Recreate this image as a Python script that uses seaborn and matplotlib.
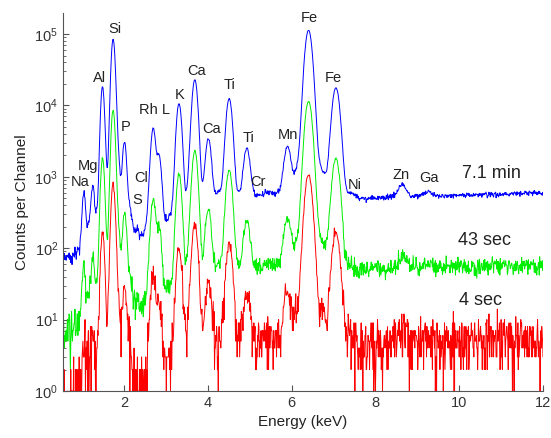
import numpy as np
import pandas as pd
import matplotlib
matplotlib.use("Agg")
import matplotlib.pyplot as plt
import seaborn as sns

# ---- data (7.1 min spectrum, counts per channel) ----
peak_energy = [1.041, 1.254, 1.487, 1.557, 1.740, 1.836, 2.013, 2.139, 2.307,
               2.622, 2.697, 2.834, 3.313, 3.590, 3.691, 4.013, 4.250, 4.510,
               4.932, 5.414, 5.899, 6.404, 6.490, 7.058, 7.478, 8.638, 9.251]
peak_height = [450, 520, 18000, 300, 84000, 1800, 2800, 200, 60,
               200, 4500, 1800, 10300, 500, 22500, 3000, 120, 12000,
               2000, 60, 2000, 112000, 500, 17000, 60, 250, 80]
bg_energy = [0.55, 0.85, 1.15, 1.40, 1.90, 2.30, 2.50, 3.00, 3.50, 4.20,
             5.20, 5.70, 6.20, 6.75, 7.10, 7.22, 8.00, 10.0, 12.0]
bg_counts = [75, 78, 220, 200, 250, 120, 150, 220, 260, 430,
             540, 580, 640, 700, 680, 470, 510, 550, 590]
live_time_s = [426, 43, 4]
series_names = ["7.1 min", "43 sec", "4 sec"]
series_colors = ["#0000ff", "#00ee00", "#ff0000"]

labels = ["Na", "Mg", "Al", "Si", "P", "S", "Cl", "Rh L", "K", "Ca", "Ca",
          "Ti", "Ti", "Cr", "Mn", "Fe", "Fe", "Ni", "Zn", "Ga"]
label_x = [0.95, 1.13, 1.415, 1.78, 2.05, 2.32, 2.42, 2.72, 3.32, 3.735, 4.08,
           4.53, 4.98, 5.20, 5.91, 6.42, 7.00, 7.51, 8.61, 9.28]
label_logy = [2.93, 3.15, 4.38, 5.07, 3.70, 2.67, 2.98, 3.94, 4.15, 4.48, 3.67,
              4.29, 3.54, 2.93, 3.59, 5.22, 4.38, 2.88, 3.03, 2.98]
series_label_x = [10.78, 10.6, 10.5]
series_label_logy = [3.05, 2.11, 1.27]

# ---- build spectra (detector response: Gaussian core plus a weak broad wing) ----
energy = np.arange(0.55, 12.0001, 0.01)
base = 10 ** np.interp(energy, bg_energy, np.log10(bg_counts))
for e0, h in zip(peak_energy, peak_height):
    sig = np.sqrt(0.0005 + 0.0045 * e0) / 2.355
    sig2 = 2.5 * sig
    base = base + h * (0.98 * np.exp(-(energy - e0) ** 2 / (2 * sig ** 2))
                       + 0.02 * np.exp(-(energy - e0) ** 2 / (2 * sig2 ** 2)))

rng = np.random.default_rng(7)
frames = []
for name, t in zip(series_names, live_time_s):
    counts = rng.poisson(base * t / live_time_s[0]).astype(float)
    frames.append(pd.DataFrame({"Energy": energy, "Counts": counts, "series": name}))
df = pd.concat(frames, ignore_index=True)

# ---- plot ----
sns.set_style("ticks")
plt.rcParams["font.family"] = ["Liberation Sans", "DejaVu Sans"]
fig = plt.figure(figsize=(5.51, 4.38), dpi=100)
ax = fig.add_axes([0.1143, 0.1073, 0.8712, 0.8630])
ax.set_yscale("log", nonpositive="clip")
sns.lineplot(data=df, x="Energy", y="Counts", hue="series",
             hue_order=series_names, palette=series_colors,
             estimator=None, linewidth=0.7, legend=False, ax=ax)

ax.set_xlim(0.544, 12)
ax.set_ylim(1, 1.97e5)
ax.set_xticks([2, 4, 6, 8, 10, 12])
ax.set_xlabel("Energy (keV)", fontsize=11, color="#222222")
ax.set_ylabel("Counts per Channel", fontsize=11, color="#222222")
for s in ["top", "right"]:
    ax.spines[s].set_visible(False)
for s in ["left", "bottom"]:
    ax.spines[s].set_color("#555555")
    ax.spines[s].set_linewidth(0.8)
ax.tick_params(which="both", direction="in", color="#555555", labelcolor="#333333",
               labelsize=10.5)
ax.tick_params(which="major", length=4)
ax.tick_params(which="minor", length=2)
ax.minorticks_off()
ax.yaxis.set_minor_locator(matplotlib.ticker.LogLocator(base=10, subs=np.arange(2, 10)))

for t, x, ly in zip(labels, label_x, label_logy):
    ax.text(x, 10 ** ly, t, ha="center", va="center", fontsize=10.5, color="#222222")
for t, x, ly in zip(series_names, series_label_x, series_label_logy):
    ax.text(x, 10 ** ly, t, ha="center", va="center", fontsize=13, color="#222222")

fig.savefig("out.png", dpi=100)
